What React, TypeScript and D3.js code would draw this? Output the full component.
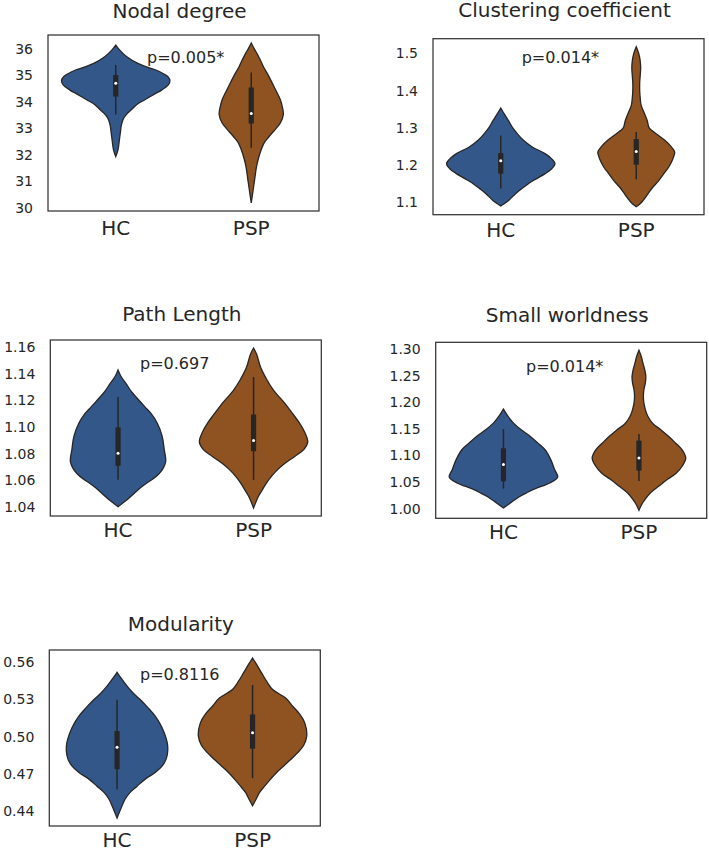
import React from 'react';
import * as d3 from 'd3';

type Pt = [number, number];

const groups = ['HC', 'PSP'];
const titles = ['Nodal degree', 'Clustering coefficient', 'Path Length', 'Small worldness', 'Modularity'];
const pLabels = ['p=0.005*', 'p=0.014*', 'p=0.697', 'p=0.014*', 'p=0.8116'];

const ticksNodal = [30, 31, 32, 33, 34, 35, 36];
const ticksClust = [1.1, 1.2, 1.3, 1.4, 1.5];
const ticksPath = [1.04, 1.06, 1.08, 1.1, 1.12, 1.14, 1.16];
const ticksSmall = [1.0, 1.05, 1.1, 1.15, 1.2, 1.25, 1.3];
const ticksMod = [0.44, 0.47, 0.5, 0.53, 0.56];

// density profiles: [value, relative density]
const nodalHC: Pt[] = [[36.14,0],[35.95,4],[35.7,11],[35.45,22],[35.3,32],[35.2,40],[35.05,48],[34.95,52],[34.8,54],[34.65,52.5],[34.45,46],[34.3,39],[34.08,29],[33.9,21],[33.7,15.5],[33.5,10],[33.33,7.3],[33.1,5.5],[32.9,4.8],[32.58,3.7],[32.2,2.3],[31.93,0]];
const nodalPSP: Pt[] = [[36.22,0],[36.0,3],[35.8,6],[35.5,10],[35.33,12],[35.0,17],[34.7,21],[34.4,25],[34.08,29],[33.8,31],[33.52,32],[33.2,29],[32.96,24],[32.7,18],[32.46,13],[32.2,10],[31.84,7],[31.5,5],[31.1,3.5],[30.7,2],[30.18,0]];
const clustHC: Pt[] = [[1.353,0],[1.335,4],[1.318,8],[1.30,12],[1.283,17],[1.266,23],[1.248,32],[1.23,45],[1.215,52],[1.203,55],[1.19,52],[1.176,45],[1.162,36],[1.149,28],[1.135,21],[1.122,15],[1.104,8],[1.089,0]];
const clustPSP: Pt[] = [[1.518,0],[1.50,2.5],[1.48,4],[1.46,4.5],[1.44,4],[1.42,3.5],[1.40,3.5],[1.38,4],[1.36,5],[1.34,8],[1.32,11],[1.30,13],[1.292,16],[1.28,22],[1.266,29],[1.25,35],[1.234,39],[1.215,37],[1.194,33],[1.176,28],[1.158,23],[1.14,17],[1.122,12],[1.104,7],[1.095,4],[1.087,0]];
const pathHC: Pt[] = [[1.143,0],[1.138,3],[1.1326,8],[1.126,14],[1.12,21],[1.115,27],[1.11,33],[1.103,39],[1.093,44],[1.083,46],[1.074,47.5],[1.069,45],[1.065,41],[1.061,35],[1.058,29],[1.054,22],[1.05,16],[1.044,7],[1.04,0]];
const pathPSP: Pt[] = [[1.1595,0],[1.155,3],[1.145,7],[1.136,13],[1.1276,20],[1.118,31],[1.11,39],[1.1027,46],[1.096,51],[1.089,54],[1.083,50],[1.0778,41],[1.073,32],[1.0679,24],[1.063,18],[1.058,13],[1.053,9],[1.048,5],[1.039,0]];
const smallHC: Pt[] = [[1.187,0],[1.175,4],[1.161,10],[1.148,18],[1.136,27],[1.123,35],[1.111,42],[1.092,48],[1.073,52],[1.059,55],[1.048,47],[1.042,39],[1.0356,30],[1.029,23],[1.023,17],[1.0105,7],[1.001,0]];
const smallPSP: Pt[] = [[1.2975,0],[1.285,2.5],[1.2737,4],[1.26,6],[1.2486,7],[1.236,6.5],[1.2236,5],[1.21,4.5],[1.1985,5],[1.186,6.5],[1.1734,9],[1.16,14],[1.1484,22],[1.136,30],[1.1233,37],[1.11,44],[1.095,47.5],[1.08,44],[1.0669,38],[1.055,29],[1.0419,20],[1.03,12],[1.0168,6],[1.0067,2.5],[0.9967,0]];
const modHC: Pt[] = [[0.5517,0],[0.547,4],[0.5405,10],[0.535,16],[0.5298,23],[0.523,31],[0.5164,38],[0.51,43],[0.503,47],[0.495,50],[0.4884,50.5],[0.482,49],[0.4763,45],[0.471,38],[0.4657,28],[0.46,20],[0.455,13],[0.4495,8],[0.4443,5],[0.4344,0]];
const modPSP: Pt[] = [[0.5632,0],[0.558,4],[0.5512,9],[0.5445,14],[0.5378,20],[0.531,33],[0.5244,40],[0.518,47],[0.511,52],[0.5004,54],[0.493,51],[0.487,45],[0.4815,38],[0.4763,31],[0.471,24],[0.4657,18],[0.46,12],[0.455,7],[0.4495,3.5],[0.4443,0]];

// box stats: [whiskerLow, q1, median, q3, whiskerHigh]
const nodalBox = [[33.52, 34.2, 34.7, 35.01, 35.39], [32.27, 33.18, 33.56, 34.54, 35.11]];
const clustBox = [[1.136, 1.176, 1.211, 1.2315, 1.279], [1.161, 1.2, 1.236, 1.269, 1.288]];
const pathBox = [[1.0602, 1.0708, 1.0803, 1.0997, 1.1226], [1.0602, 1.0818, 1.0898, 1.1094, 1.1376]];
const smallBox = [[1.0375, 1.0513, 1.0826, 1.1133, 1.1496], [1.0519, 1.0713, 1.0951, 1.1277, 1.1402]];
const modBox = [[0.4573, 0.4737, 0.4913, 0.5044, 0.5295], [0.4665, 0.4902, 0.5031, 0.5178, 0.5415]];

const COLORS = ['#34578a', '#8f5221'];
const TEXT = '#262626';
const FONT = '"DejaVu Sans", Verdana, sans-serif';
const W = 271;
const H = 176;

const panels = [
  { left: 48, top: 35, titleDy: -17.5, xlDy: 24, pdx: 99, pdy: 27.5, ticks: ticksNodal, fmt: d3.format('d'), prof: [nodalHC, nodalPSP], box: nodalBox },
  { left: 433, top: 38.7, titleDy: -21.3, xlDy: 21.8, pdx: 88.7, pdy: 24, ticks: ticksClust, fmt: d3.format('.1f'), prof: [clustHC, clustPSP], box: clustBox },
  { left: 50.3, top: 340, titleDy: -19.3, xlDy: 21.3, pdx: 89.7, pdy: 29, ticks: ticksPath, fmt: d3.format('.2f'), prof: [pathHC, pathPSP], box: pathBox },
  { left: 435.7, top: 342.3, titleDy: -20.6, xlDy: 20.8, pdx: 90.3, pdy: 29.4, ticks: ticksSmall, fmt: d3.format('.2f'), prof: [smallHC, smallPSP], box: smallBox },
  { left: 49.3, top: 650, titleDy: -19.3, xlDy: 20.5, pdx: 90.7, pdy: 30, ticks: ticksMod, fmt: d3.format('.2f'), prof: [modHC, modPSP], box: modBox },
];

function Panel({ idx }: { idx: number }) {
  const p = panels[idx];
  const all = p.prof.flat().map((d) => d[0]);
  const [lo, hi] = d3.extent(all) as [number, number];
  const pad = (hi - lo) * 0.05;
  const y = d3.scaleLinear().domain([lo - pad, hi + pad]).range([p.top + H, p.top]);
  const x = d3.scaleLinear().domain([-0.5, 1.5]).range([p.left, p.left + W]);
  const maxD = d3.max(p.prof.flat(), (d) => d[1]) as number;
  const w = d3.scaleLinear().domain([0, maxD]).range([0, 0.4 * (x(1) - x(0))]);

  return (
    <g>
      <text x={p.left + W / 2 - 4} y={p.top + p.titleDy} textAnchor="middle" fontSize={20} fill={TEXT} fontFamily={FONT}>
        {titles[idx]}
      </text>
      {p.ticks.map((t) => (
        <text key={t} x={p.left - 15} y={y(t)} dy="0.36em" textAnchor="end" fontSize={14} fill={TEXT} fontFamily={FONT}>
          {p.fmt(t)}
        </text>
      ))}
      {groups.map((g, gi) => {
        const cx = x(gi);
        const area = d3
          .area<Pt>()
          .y((d) => y(d[0]))
          .x0((d) => cx - w(d[1]))
          .x1((d) => cx + w(d[1]))
          .curve(d3.curveCatmullRom);
        const b = p.box[gi];
        return (
          <g key={g}>
            <path d={area(p.prof[gi]) || ''} fill={COLORS[gi]} stroke={TEXT} strokeWidth={1.3} />
            <line x1={cx} x2={cx} y1={y(b[0])} y2={y(b[4])} stroke={TEXT} strokeWidth={1.5} />
            <rect x={cx - 2.6} width={5.2} y={y(b[3])} height={y(b[1]) - y(b[3])} fill={TEXT} />
            <circle cx={cx} cy={y(b[2])} r={1.5} fill="#ffffff" />
            <text x={cx} y={p.top + H + p.xlDy} textAnchor="middle" fontSize={20} fill={TEXT} fontFamily={FONT}>
              {g}
            </text>
          </g>
        );
      })}
      <text x={p.left + p.pdx} y={p.top + p.pdy} fontSize={16} fill={TEXT} fontFamily={FONT}>
        {pLabels[idx]}
      </text>
      <rect x={p.left} y={p.top} width={W} height={H} fill="none" stroke="#333333" strokeWidth={1.25} />
    </g>
  );
}

export default function App() {
  return (
    <svg width={709} height={849} style={{ position: 'absolute', left: 0, top: 0, background: '#ffffff' }}>
      {panels.map((_, i) => (
        <Panel key={i} idx={i} />
      ))}
    </svg>
  );
}
